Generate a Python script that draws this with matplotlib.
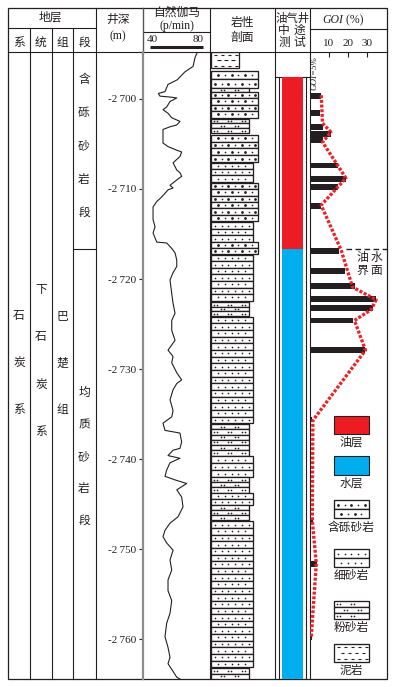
"""Well column: strata, depth, gamma log, lithology, DST result and GOI."""

import matplotlib

matplotlib.use("Agg")
import matplotlib.pyplot as plt
import numpy as np
from matplotlib.patches import Rectangle
from matplotlib.ticker import FuncFormatter

plt.rcParams["font.family"] = ["Liberation Serif", "Noto Sans CJK SC"]

INK = "#231f20"
RED = "#ed1c24"
BLUE = "#00aeef"
W, H = 395, 687

# ---------------- data ----------------
depth_top, depth_base = 2694.8, 2764.4
depth_ticks = [2700, 2710, 2720, 2730, 2740, 2750, 2760]

gr_scale = [40, 80]
gr_depth = [2694.9, 2695.4, 2696.4, 2697.0, 2697.9, 2698.4, 2699.2, 2699.4, 2699.7,
            2699.8, 2699.9, 2700.3, 2700.9, 2701.2, 2701.6, 2702.1, 2702.5, 2702.9,
            2703.1, 2703.4, 2704.9, 2705.3, 2705.7, 2705.9, 2706.4, 2707.1, 2707.9,
            2708.2, 2708.6, 2709.0, 2709.6, 2709.9, 2710.1, 2710.9, 2711.4, 2712.0,
            2713.4, 2714.2, 2714.9, 2715.9, 2716.0, 2716.6, 2717.1, 2717.9, 2718.6,
            2719.3, 2720.1, 2721.6, 2722.7, 2723.8, 2724.6, 2725.7, 2726.8, 2727.9,
            2728.6, 2729.3, 2730.4, 2731.2, 2731.6, 2732.3, 2733.4, 2734.6, 2735.3,
            2736.0, 2736.8, 2737.1, 2738.1, 2738.8, 2739.0, 2739.6, 2739.9, 2740.4,
            2741.2, 2741.9, 2742.3, 2742.7, 2743.4, 2744.2, 2745.3, 2746.4, 2747.1,
            2747.9, 2748.6, 2749.3, 2750.1, 2751.2, 2752.3, 2753.4, 2754.6, 2755.7,
            2757.1, 2758.2, 2759.7, 2760.9, 2762.0, 2762.7, 2764.2, 2764.4]
gr_value = [75.5, 74.0, 72.5, 66.4, 60.4, 53.6, 51.3, 46.3, 47.5,
            55.1, 60.2, 55.1, 52.6, 49.8, 53.6, 56.4, 62.6, 60.2,
            55.1, 49.8, 49.8, 53.6, 60.2, 63.9, 62.6, 57.4, 60.2,
            62.6, 63.9, 60.2, 55.1, 57.4, 53.6, 48.8, 45.1, 42.3,
            42.3, 43.8, 42.3, 45.1, 52.6, 56.4, 58.9, 60.2, 60.2,
            57.4, 55.1, 56.4, 57.4, 58.9, 56.4, 56.4, 58.9, 53.6,
            57.4, 56.4, 60.2, 63.9, 60.2, 57.4, 55.1, 57.4, 56.4,
            49.8, 51.3, 62.6, 63.9, 62.6, 57.4, 53.6, 62.6, 55.1,
            52.6, 51.3, 58.9, 67.7, 60.2, 63.9, 64.9, 61.1, 55.1,
            51.3, 49.8, 52.6, 57.4, 55.1, 56.4, 53.6, 53.6, 56.4,
            55.1, 52.6, 51.3, 53.6, 55.1, 53.6, 60.2, 62.6]

litho_top = [2694.8, 2696.9, 2698.8, 2699.2, 2702.2, 2704.0, 2707.1, 2709.3, 2713.7, 2715.9,
             2717.3, 2722.6, 2724.2, 2736.1, 2739.7, 2742.0, 2743.8, 2745.1, 2746.9, 2763.2]
litho_base = [2696.6, 2698.8, 2699.2, 2702.1, 2703.8, 2707.0, 2709.2, 2713.6, 2715.9, 2717.2,
              2722.4, 2724.1, 2736.0, 2739.6, 2742.0, 2743.7, 2745.1, 2746.8, 2763.1, 2764.4]
litho_type = ["mud", "gravel", "silt", "gravel", "silt", "gravel", "fine", "gravel", "fine", "gravel",
              "fine", "silt", "fine", "silt", "fine", "silt", "fine", "silt", "fine", "silt"]
litho_rows = [1, 2, 1, 4, 3, 4, 3, 6, 3, 2, 7, 3, 16, 6, 3, 3, 2, 3, 22, 2]

oil_top, owc_depth = 2697.6, 2716.7

goi_ticks = [10, 20, 30]
goi_depth = [2699.7, 2701.6, 2703.1, 2703.9, 2704.6, 2707.4, 2708.9, 2709.8, 2711.9, 2716.9,
             2719.1, 2720.8, 2722.2, 2723.2, 2724.6, 2727.9, 2735.6, 2746.9, 2751.6, 2759.8]
goi_value = [5.9, 5.0, 6.6, 11.2, 6.6, 14.5, 18.7, 14.5, 5.9, 15.5,
             18.2, 23.9, 34.5, 32.9, 22.4, 28.7, 1.3, 1.8, 3.9, 1.3]
goi_line_depth = [2699.6, 2702.7, 2703.7, 2704.8, 2708.8, 2711.8, 2716.8, 2720.9,
                  2722.3, 2723.4, 2724.6, 2727.9, 2735.7, 2746.8, 2751.6, 2759.9]
goi_line_value = [5.9, 6.6, 11.0, 6.6, 18.9, 5.9, 16.4, 22.4,
                  34.8, 32.2, 23.4, 29.2, 1.5, 1.2, 3.3, 0.6]

system_chars = "石炭系"
series_chars = "下石炭系"
formation_chars = "巴楚组"
member_upper = "含砾砂岩段"
member_lower = "均质砂岩段"
legend_labels = ["油层", "水层", "含砾砂岩", "细砂岩", "粉砂岩", "泥岩"]


# ---------------- helpers ----------------
def px_axes(fig, x0, x1, y0, y1):
    ax = fig.add_axes([x0 / W, 1 - y1 / H, (x1 - x0) / W, (y1 - y0) / H])
    ax.patch.set_alpha(0)
    for s in ax.spines.values():
        s.set_visible(False)
    return ax


def litho_row(ax, x0, x1, y0, y1, kind, k):
    """One thin bed drawn as a box with its fill symbol (x units are pixels)."""
    ax.add_patch(Rectangle((x0, y0), x1 - x0, y1 - y0, fc="white", ec=INK, lw=0.95, zorder=2))
    ym = (y0 + y1) / 2
    if kind == "fine":
        xs = np.arange(x0 + 4 + (k % 2) * 3.3, x1 - 2, 6.7)
        ax.plot(xs, [ym] * len(xs), "o", ms=1.2, mew=0, color=INK, zorder=3)
    elif kind == "gravel":
        xs = np.arange(x0 + 4 + (k % 2) * 3.3, x1 - 2, 6.7)
        ax.plot(xs[::2], [ym] * len(xs[::2]), "o", ms=2.0, mew=0, color=INK, zorder=3)
        ax.plot(xs[1::2], [ym] * len(xs[1::2]), "o", ms=1.2, mew=0, color=INK, zorder=3)
    elif kind == "silt":
        xs = np.arange(x0 + 3 + (k % 2) * 7, x1 - 4, 14)
        for x in xs:
            ax.plot([x, x + 2.6], [ym, ym], "o", ms=1.2, mew=0, color=INK, zorder=3)
    elif kind == "mud":
        for i in range(3):
            yy = y0 + (i + 0.5) * (y1 - y0) / 3
            xs = np.arange(x0 + 3 + (i % 2) * 3.5, x1 - 3, 7)
            ax.hlines([yy] * len(xs), xs, xs + 3.2, color=INK, lw=0.8, zorder=3)


# ---------------- figure ----------------
fig = plt.figure(figsize=(W / 100, H / 100), dpi=100)
frame = fig.add_axes([0, 0, 1, 1])
frame.set_xlim(0, W)
frame.set_ylim(H, 0)
frame.axis("off")

Y_HEAD, Y_BOT = 52, 679


def hline(y, x0, x1, **kw):
    frame.plot([x0, x1], [y, y], color=kw.pop("color", INK), lw=kw.pop("lw", 0.8), **kw)


def vline(x, y0, y1, **kw):
    frame.plot([x, x], [y0, y1], color=kw.pop("color", INK), lw=kw.pop("lw", 0.8), **kw)


def txt(x, y, s, size=8.5, **kw):
    frame.text(x, y, s, ha=kw.pop("ha", "center"), va=kw.pop("va", "center"),
               fontsize=size, color=INK, **kw)


# table frame
frame.add_patch(Rectangle((8, 8), 379, Y_BOT - 8, fill=False, ec=INK, lw=0.9))
hline(Y_HEAD, 8, 387)
hline(28, 8, 96)
hline(32, 143, 210)
hline(29, 310, 387)
for x in (30, 52, 73):
    vline(x, 28, Y_BOT)
for x in (96, 210, 275, 310):
    vline(x, 8, Y_BOT)
vline(143, 8, Y_HEAD, color="#555555", lw=1.0)
hline(249, 73, 96)
hline(77, 275, 310)
vline(279, 77, Y_BOT)
vline(306, 77, Y_BOT)

# headers
txt(50, 18, "地层", 8.5)
for x, s in zip((19, 41, 62, 84), "系统组段"):
    txt(x, 43, s, 8.5)
txt(118, 20, "井深", 8.5)
txt(118, 36, "(m)", 8.5)
txt(177, 13, "自然伽马", 8.5)
txt(177, 26, "(p/min)", 8.5)
txt(242, 23, "岩性", 8.5)
txt(242, 38, "剖面", 8.5)
txt(292.5, 18, "油气井", 8.2)
txt(284, 31, "中", 8.5)
txt(299, 31, "途", 8.5)
txt(284, 43, "测", 8.5)
txt(299, 43, "试", 8.5)
txt(343, 20, "GOI", 8.5, ha="right", style="italic")
txt(343, 20, " (%)", 8.5, ha="left")

# vertical stratigraphy text
for i, s in enumerate(system_chars):
    txt(19, 316 + i * 47, s, 8.5)
for i, s in enumerate(series_chars):
    txt(41, 290 + i * 47.3, s, 8.5)
for i, s in enumerate(formation_chars):
    txt(62, 317 + i * 46.5, s, 8.5)
for i, s in enumerate(member_upper):
    txt(84, 80 + i * 33.3, s, 8.5)
for i, s in enumerate(member_lower):
    txt(84, 393 + i * 32, s, 8.5)

# ---- gamma log + depth axis ----
GX0, GX1 = 143, 210
gr_lo = gr_scale[0] - 7 / 1.325
gr_hi = gr_scale[0] + 60 / 1.325
ax_gr = px_axes(fig, GX0, GX1, Y_HEAD, Y_BOT)
ax_gr.plot(gr_value, gr_depth, color=INK, lw=0.8)
ax_gr.set_xlim(gr_lo, gr_hi)
ax_gr.set_ylim(depth_base, depth_top)
ax_gr.set_xticks([])
ax_gr.spines["left"].set_visible(True)
ax_gr.spines["left"].set_color("#8c8c8c")
ax_gr.spines["left"].set_linewidth(1.6)
ax_gr.set_yticks(depth_ticks)
ax_gr.yaxis.set_major_formatter(
    FuncFormatter(lambda v, p: f"-{int(v) // 1000}\u2009{int(v) % 1000:03d}"))
ax_gr.tick_params(axis="y", direction="out", length=3, width=0.8, color=INK,
                  labelsize=8, labelcolor=INK, pad=2)


def gr_px(v):
    return GX0 + (v - gr_lo) / (gr_hi - gr_lo) * (GX1 - GX0)


frame.plot([gr_px(gr_scale[0]), gr_px(gr_scale[1])], [47, 47], color=INK, lw=2.2,
           solid_capstyle="butt")
txt(gr_px(gr_scale[0]) - 3, 39, str(gr_scale[0]), 8, ha="left")
txt(gr_px(gr_scale[1]) + 1, 39, str(gr_scale[1]), 8, ha="right")

# ---- lithology ----
ax_li = px_axes(fig, 210, 275, Y_HEAD, Y_BOT)
ax_li.set_xlim(0, 65)
ax_li.set_ylim(depth_base, depth_top)
ax_li.set_xticks([])
ax_li.set_yticks([])
right_edge = {"gravel": 48, "fine": 43, "silt": 38.5, "mud": 29}
k = 0
for top, base, kind, n in zip(litho_top, litho_base, litho_type, litho_rows):
    edges = np.linspace(top, base, n + 1)
    for a, b in zip(edges[:-1], edges[1:]):
        litho_row(ax_li, 1, right_edge[kind], a, b, kind, k)
        k += 1

# ---- oil/water test ----
ax_oil = px_axes(fig, 282, 303, Y_HEAD, Y_BOT)
ax_oil.set_xlim(0, 1)
ax_oil.set_ylim(depth_base, depth_top)
ax_oil.set_xticks([])
ax_oil.set_yticks([])
ax_oil.fill_between([0, 1], oil_top, owc_depth, color=RED, lw=0)
ax_oil.fill_between([0, 1], owc_depth, depth_base, color=BLUE, lw=0)

# ---- GOI ----
ax_goi = px_axes(fig, 310, 387, Y_HEAD, Y_BOT)
ax_goi.set_xlim(0, 77 / 1.9)
ax_goi.set_ylim(depth_base, depth_top)
ax_goi.barh(goi_depth, goi_value, height=0.65, color=INK, zorder=2)
ax_goi.plot(goi_line_value, goi_line_depth, color="#e8232a", lw=2.4,
            ls=(0, (0.9, 0.5)), zorder=3)
ax_goi.plot([18.7, 77 / 1.9], [owc_depth, owc_depth], color=INK, lw=1.0,
            ls=(0, (4, 2.5)))
ax_goi.set_yticks([])
ax_goi.set_xticks(goi_ticks)
ax_goi.xaxis.set_ticks_position("top")
ax_goi.tick_params(axis="x", direction="in", length=3.5, width=0.8, color=INK,
                   labelsize=8, labelcolor=INK, pad=3)
txt(314.5, 73, "GOI=5%", 6.5, rotation=90, style="italic")
txt(362, 258, "油", 8.5)
txt(376, 258, "水", 8.5)
txt(362, 271, "界", 8.5)
txt(376, 271, "面", 8.5)

# ---- legend ----
LX0, LX1 = 334, 369
frame.add_patch(Rectangle((LX0, 416), LX1 - LX0, 18, fc=RED, ec=INK, lw=0.8))
txt(351, 443, legend_labels[0], 8.5)
frame.add_patch(Rectangle((LX0, 456), LX1 - LX0, 19, fc=BLUE, ec=INK, lw=0.8))
txt(351, 484, legend_labels[1], 8.5)
litho_row(frame, LX0, LX1, 500, 509, "gravel", 0)
litho_row(frame, LX0, LX1, 509, 518, "gravel", 1)
txt(351, 528, legend_labels[2], 8.5)
litho_row(frame, LX0, LX1, 549, 558, "fine", 0)
litho_row(frame, LX0, LX1, 558, 567, "fine", 1)
txt(351, 576, legend_labels[3], 8.5)
for i in range(3):
    litho_row(frame, LX0, LX1, 601 + i * 6, 607 + i * 6, "silt", i)
txt(351, 628, legend_labels[4], 8.5)
litho_row(frame, LX0, LX1, 644, 662, "mud", 0)
txt(351, 671, legend_labels[5], 8.5)

fig.savefig("out.png", dpi=100)
